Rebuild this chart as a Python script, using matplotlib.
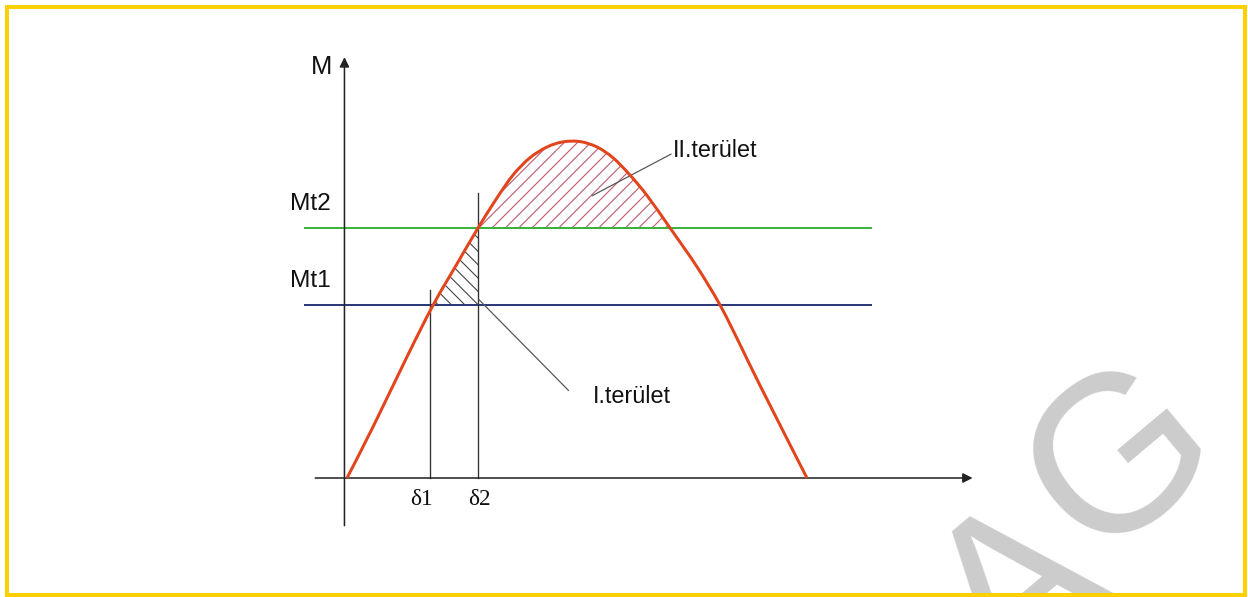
import matplotlib
matplotlib.use("Agg")
import numpy as np
import matplotlib.pyplot as plt
from matplotlib.patches import Rectangle, PathPatch
from matplotlib.path import Path

# curve: load angle (deg) vs. torque (relative)
delta = [0, 10.2, 23.5, 33.7, 43.4, 51.3, 58.7, 65.0, 71.6, 78.3, 84.5,
         91.2, 97.8, 104.1, 110.7, 117.4, 126.4, 137.0, 146.0, 153.8, 161.6, 180]
M = [0, 0.152, 0.360, 0.513, 0.640, 0.742, 0.831, 0.899, 0.950, 0.982, 0.997,
     0.998, 0.982, 0.950, 0.899, 0.838, 0.742, 0.626, 0.513, 0.396, 0.275, 0]

Mt1 = 0.513
Mt2 = 0.742
d1 = 32.5
d2 = 51.3
d1_top = 0.558
d2_top = 0.846
hline_x = [-16.4, 205]

delta = np.array(delta)
M = np.array(M)

plt.rcParams['hatch.linewidth'] = 1.0

fig = plt.figure(figsize=(15.6, 7.4625), dpi=80)
ax = fig.add_axes([0, 0, 1, 1])
ax.set_xlim(-135.8, 352.6)
ax.set_ylim(-0.353, 1.418)
ax.axis('off')

# axes with arrows
ax.annotate('', xy=(245.7, 0), xytext=(-13.3, 0),
            arrowprops=dict(arrowstyle='-|>', color='#222222', lw=1.4, mutation_scale=18))
ax.annotate('', xy=(-1, 1.255), xytext=(-1, -0.148),
            arrowprops=dict(arrowstyle='-|>', color='#222222', lw=1.4, mutation_scale=18))

# torque levels
ax.plot(hline_x, [Mt2, Mt2], color='#3cb43c', lw=1.8)
ax.plot(hline_x, [Mt1, Mt1], color='#2e3a7a', lw=1.8)

# delta markers
ax.plot([d1, d1], [0, d1_top], color='#333333', lw=1.2)
ax.plot([d2, d2], [0, d2_top], color='#333333', lw=1.2)

# hatched areas
m1 = (delta >= 33.7) & (delta <= d2)
ax.fill_between(delta[m1], Mt1, M[m1], facecolor='none', edgecolor='#444444',
                linewidth=0, hatch='\\\\')
m2 = (delta >= d2) & (delta <= 126.4)
ax.fill_between(delta[m2], Mt2, M[m2], facecolor='none', edgecolor='#c05a70',
                linewidth=0, hatch='//')

# curve drawn as a smooth path through the read points
pts = np.column_stack([delta, M])
verts = [pts[0]]
codes = [Path.MOVETO]
n = len(pts)
for i in range(n - 1):
    p0 = pts[max(i - 1, 0)]
    p1 = pts[i]
    p2 = pts[i + 1]
    p3 = pts[min(i + 2, n - 1)]
    verts += [p1 + (p2 - p0) / 6, p2 - (p3 - p1) / 6, p2]
    codes += [Path.CURVE4] * 3
ax.add_patch(PathPatch(Path(verts, codes), facecolor='none',
                       edgecolor='#e2441c', lw=2.7, zorder=5))

# leaders
ax.annotate('', xy=(51.0, 0.534), xytext=(87.3, 0.255),
            arrowprops=dict(arrowstyle='-', color='#555555', lw=1.1))
ax.annotate('', xy=(95.1, 0.834), xytext=(127.6, 0.964),
            arrowprops=dict(arrowstyle='-', color='#555555', lw=1.1))

sans = 'Liberation Sans'
ax.text(-14.2, 1.199, 'M', fontsize=23, family=sans, color='#111111')
ax.text(-22.3, 0.795, 'Mt2', fontsize=22, family=sans, color='#111111')
ax.text(-22.3, 0.567, 'Mt1', fontsize=22, family=sans, color='#111111')
ax.text(96.2, 0.223, 'I.terület', fontsize=21, family=sans, color='#111111')
ax.text(127.6, 0.953, 'II.terület', fontsize=21, family=sans, color='#111111')
ax.text(29.0, -0.080, 'δ1', fontsize=21, family='Liberation Serif',
        ha='center', color='#111111')
ax.text(52.0, -0.080, 'δ2', fontsize=21, family='Liberation Serif',
        ha='center', color='#111111')

# watermark (cropped by the frame edge, as in the source)
fig.text(1022 / 1248, 1 - 597 / 597, 'A', fontsize=200, family=sans,
         color='#cccccc', rotation=40, ha='center', va='center',
         rotation_mode='anchor', zorder=1)
fig.text(1124 / 1248, 1 - 461 / 597, 'G', fontsize=200, family=sans,
         color='#cccccc', rotation=40, ha='center', va='center',
         rotation_mode='anchor', zorder=1)

# yellow frame
fig.patches.append(Rectangle((7 / 1248, 2 / 597), 1238 / 1248, 588 / 597,
                             transform=fig.transFigure, fill=False,
                             edgecolor='#ffd000', lw=3.6, zorder=10))

fig.savefig('out.png', dpi=80)
